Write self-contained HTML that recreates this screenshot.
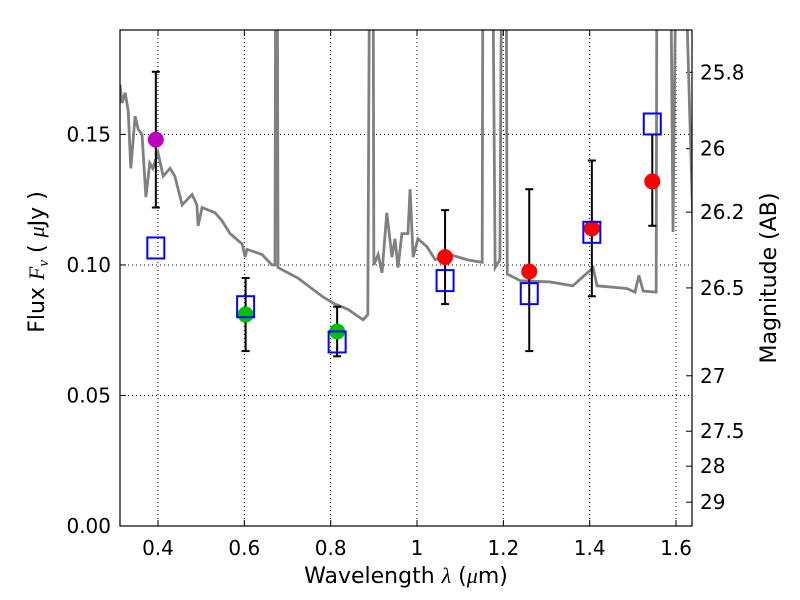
<!DOCTYPE html>
<html><head><meta charset="utf-8"><style>
html,body{margin:0;padding:0;background:#fff}
svg{display:block;font-family:"DejaVu Sans","Liberation Sans",sans-serif}
</style></head><body>
<svg id="chart" width="800" height="600"></svg>
<script>
const specWl=[.312,.317,.324,.331,.337,.347,.354,.363,.372,.381,.388,.400,.412,.428,.439,.456,.479,.490,.493,.502,.532,.548,.567,.595,.602,.606,.641,.664,.671,.673,.676,.678,.724,.780,.810,.840,.875,.886,.891,.898,.900,.910,.919,.930,.942,.949,.956,.965,.979,.984,.991,1.002,1.023,1.042,1.076,1.116,1.151,1.153,1.174,1.181,1.192,1.197,1.206,1.209,1.239,1.308,1.361,1.408,1.417,1.486,1.505,1.514,1.524,1.554,1.556,1.586,1.593,1.602,1.616,1.642];
const specFlux=[.169,.162,.166,.159,.137,.157,.152,.150,.126,.139,.137,.143,.134,.137,.134,.123,.127,.123,.115,.122,.120,.117,.112,.108,.103,.106,.104,.100,.100,.25,.25,.099,.095,.088,.085,.083,.079,.081,.25,.25,.100,.104,.097,.120,.103,.110,.099,.112,.112,.129,.103,.110,.107,.102,.104,.102,.101,.25,.25,.099,.102,.25,.25,.0965,.094,.0935,.092,.099,.092,.091,.0896,.096,.090,.0896,.25,.25,.1126,.25,.25,.098];
const photWl=[0.395,0.603,0.815,1.065,1.26,1.405,1.545];
const photFlux=[0.148,0.081,0.0745,0.103,0.0975,0.114,0.132];
const errLo=[0.122,0.067,0.065,0.085,0.067,0.088,0.115];
const errHi=[0.174,0.095,0.084,0.121,0.129,0.140,0.150];
const photColor=["#bf00bf","#00c000","#00c000","#ff0000","#ff0000","#ff0000","#ff0000"];
const modelFlux=[0.1065,0.084,0.0705,0.094,0.089,0.1125,0.154];
const xTicks=[0.4,0.6,0.8,1.0,1.2,1.4,1.6];
const xTickLabels=["0.4","0.6","0.8","1","1.2","1.4","1.6"];
const yTicks=[0,0.05,0.10,0.15];
const yTickLabels=["0.00","0.05","0.10","0.15"];
const magTicks=[25.8,26,26.2,26.5,27,27.5,28,29];
const magTickLabels=["25.8","26","26.2","26.5","27","27.5","28","29"];

const L=120,R=692,T=30,B=526,X0=0.312,X1=1.637,Y0=0,Y1=0.19;
const sx=v=>L+(v-X0)/(X1-X0)*(R-L);
const sy=v=>B-(v-Y0)/(Y1-Y0)*(B-T);
const NS="http://www.w3.org/2000/svg";
const svg=document.getElementById('chart');
function mk(tag,attrs,parent){const e=document.createElementNS(NS,tag);for(const k in attrs)e.setAttribute(k,attrs[k]);(parent||svg).appendChild(e);return e;}
const defs=mk('defs',{});
const cp=mk('clipPath',{id:'clip'},defs);mk('rect',{x:L,y:T,width:R-L,height:B-T},cp);

xTicks.forEach((t,i)=>{
 const g=mk('line',{x1:sx(t),x2:sx(t),y1:T,y2:B,stroke:'#000','stroke-width':1,'stroke-dasharray':'1,3'});
 
 
 mk('line',{x1:sx(t),x2:sx(t),y1:B,y2:B-6,stroke:'#000'});
 mk('line',{x1:sx(t),x2:sx(t),y1:T,y2:T+6,stroke:'#000'});
 const tx=mk('text',{x:sx(t),y:B+29,'text-anchor':'middle','font-size':20});tx.textContent=xTickLabels[i];
 
 
});
yTicks.forEach((t,i)=>{
 if(t>0){const g=mk('line',{x1:L,x2:R,y1:sy(t),y2:sy(t),stroke:'#000','stroke-width':1,'stroke-dasharray':'1,3'});
 
 }
 mk('line',{x1:L,x2:L+6,y1:sy(t),y2:sy(t),stroke:'#000'});
 const tx=mk('text',{x:L-9,y:sy(t)+7,'text-anchor':'end','font-size':20});tx.textContent=yTickLabels[i];
 
 
});
magTicks.forEach((m,i)=>{
 const f=Math.pow(10,(23.9-m)/2.5);const y=sy(f);
 mk('line',{x1:R,x2:R-6,y1:y,y2:y,stroke:'#000'});
 const tx=mk('text',{x:R+8,y:y+7,'font-size':20});tx.textContent=magTickLabels[i];
 
 
});

const sp=mk('polyline',{points:specWl.map((w,i)=>sx(w)+','+sy(specFlux[i])).join(' '),fill:'none',stroke:'#808080','stroke-width':2.8,'clip-path':'url(#clip)'});



photWl.forEach((w,i)=>{
 const x=sx(w);
 const e=mk('g',{stroke:'#000','stroke-width':2});
 
 
 mk('line',{x1:x,x2:x,y1:sy(errLo[i]),y2:sy(errHi[i])},e);
 mk('line',{x1:x-4,x2:x+4,y1:sy(errLo[i]),y2:sy(errLo[i])},e);
 mk('line',{x1:x-4,x2:x+4,y1:sy(errHi[i]),y2:sy(errHi[i])},e);
 const c=mk('circle',{cx:x,cy:sy(photFlux[i]),r:8,fill:photColor[i]});
 
 
});
photWl.forEach((w,i)=>{
 const s=mk('rect',{x:sx(w)-8.5,y:sy(modelFlux[i])-10.5,width:17,height:21,fill:'none',stroke:'#0000ff','stroke-width':2});
 
 
});

const fr=mk('rect',{x:L,y:T,width:R-L,height:B-T,fill:'none',stroke:'#000','stroke-width':1.2});



const xl=mk('text',{x:406,y:583,'text-anchor':'middle','font-size':22});
xl.innerHTML='Wavelength  <tspan font-style="italic" font-family="Liberation Serif,serif">λ</tspan> (<tspan font-style="italic" font-family="Liberation Serif,serif">μ</tspan>m)';


const yl=mk('text',{x:44,y:262,'text-anchor':'middle','font-size':22,transform:'rotate(-90 44 262)'});
yl.innerHTML='Flux  <tspan font-style="italic" font-family="Liberation Serif,serif">F<tspan font-size="15" dy="4">ν</tspan></tspan><tspan dy="-4">  (  </tspan><tspan font-style="italic" font-family="Liberation Serif,serif">μ</tspan>Jy )';


const yr=mk('text',{x:776,y:278,'text-anchor':'middle','font-size':22,transform:'rotate(-90 776 278)'});
yr.textContent='Magnitude (AB)';


</script>
</body></html>
